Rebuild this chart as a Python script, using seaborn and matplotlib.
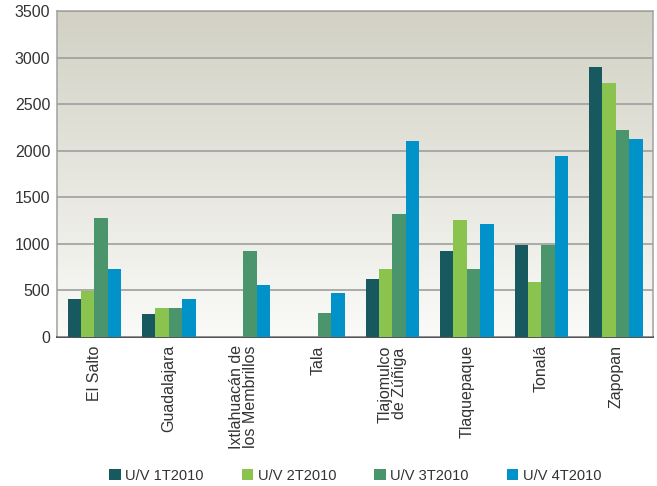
import matplotlib
matplotlib.use('Agg')
import matplotlib.pyplot as plt
from matplotlib.colors import LinearSegmentedColormap
from matplotlib import font_manager
import seaborn as sns
import numpy as np
import pandas as pd

municipios = ['El Salto', 'Guadalajara', 'Ixtlahuacán de\nlos Membrillos', 'Tala',
              'Tlajomulco\nde Zúñiga', 'Tlaquepaque', 'Tonalá', 'Zapopan']
series = ['U/V 1T2010', 'U/V 2T2010', 'U/V 3T2010', 'U/V 4T2010']
t1 = [405, 240, 0, 0, 620, 924, 989, 2905]
t2 = [491, 305, 0, 0, 724, 1254, 588, 2723]
t3 = [1272, 305, 924, 255, 1322, 724, 989, 2221]
t4 = [724, 405, 555, 473, 2106, 1208, 1942, 2124]
colores = ['#17595E', '#8BC34F', '#4A956B', '#0092C9']

df = pd.DataFrame({'municipio': municipios * 4,
                   'serie': np.repeat(series, len(municipios)),
                   'valor': t1 + t2 + t3 + t4})

sns.set_style('white')
plt.rcParams['font.family'] = ['Liberation Sans', 'DejaVu Sans']

fig = plt.figure(figsize=(6.57, 4.86), dpi=100)
ax = fig.add_axes([0.087, 0.307, 0.907, 0.670])

sns.barplot(data=df, x='municipio', y='valor', hue='serie', palette=colores,
            saturation=1, width=0.72, ax=ax, zorder=3, edgecolor='none')

ax.set_xlim(-0.5, len(municipios) - 0.5)
ax.set_ylim(0, 3500)

# fondo degradado
grad = np.linspace(0, 1, 256).reshape(-1, 1)
cmap = LinearSegmentedColormap.from_list('fondo', ['#FAFAF8', '#D2D1C4'])
ax.imshow(grad, aspect='auto', cmap=cmap, origin='lower',
          extent=[-0.5, len(municipios) - 0.5, 0, 3500], zorder=0)

ax.set_yticks(range(0, 3501, 500))
ax.yaxis.grid(True, color='#9E9E9E', linewidth=1.2)
ax.set_axisbelow(False)
for ln in ax.get_ygridlines():
    ln.set_zorder(1)

ax.tick_params(axis='y', labelsize=11.5, colors='#333333', length=0, pad=5)
ax.tick_params(axis='x', labelsize=11.5, colors='#333333', length=0, pad=6)
plt.setp(ax.get_xticklabels(), rotation=90, va='top', ha='center', linespacing=0.95)
ax.set_xlabel('')
ax.set_ylabel('')

for s in ['top', 'right', 'left']:
    ax.spines[s].set_color('#A8A8A8')
    ax.spines[s].set_linewidth(1.2)
ax.spines['bottom'].set_color('#333333')
ax.spines['bottom'].set_linewidth(1.2)

# leyenda en fuente angosta si existe
nombres = {f.name for f in font_manager.fontManager.ttflist}
if 'Liberation Sans Narrow' in nombres:
    prop = {'family': 'Liberation Sans Narrow', 'size': 12.5}
else:
    prop = {'family': 'Liberation Sans', 'size': 10.5}

ax.legend(loc='center', bbox_to_anchor=(0.5, -0.427), ncol=4, frameon=False,
          prop=prop, handlelength=0.8, handleheight=0.8, handletextpad=0.3,
          columnspacing=2.6, labelcolor='#333333')

fig.savefig('out.png', dpi=100)
